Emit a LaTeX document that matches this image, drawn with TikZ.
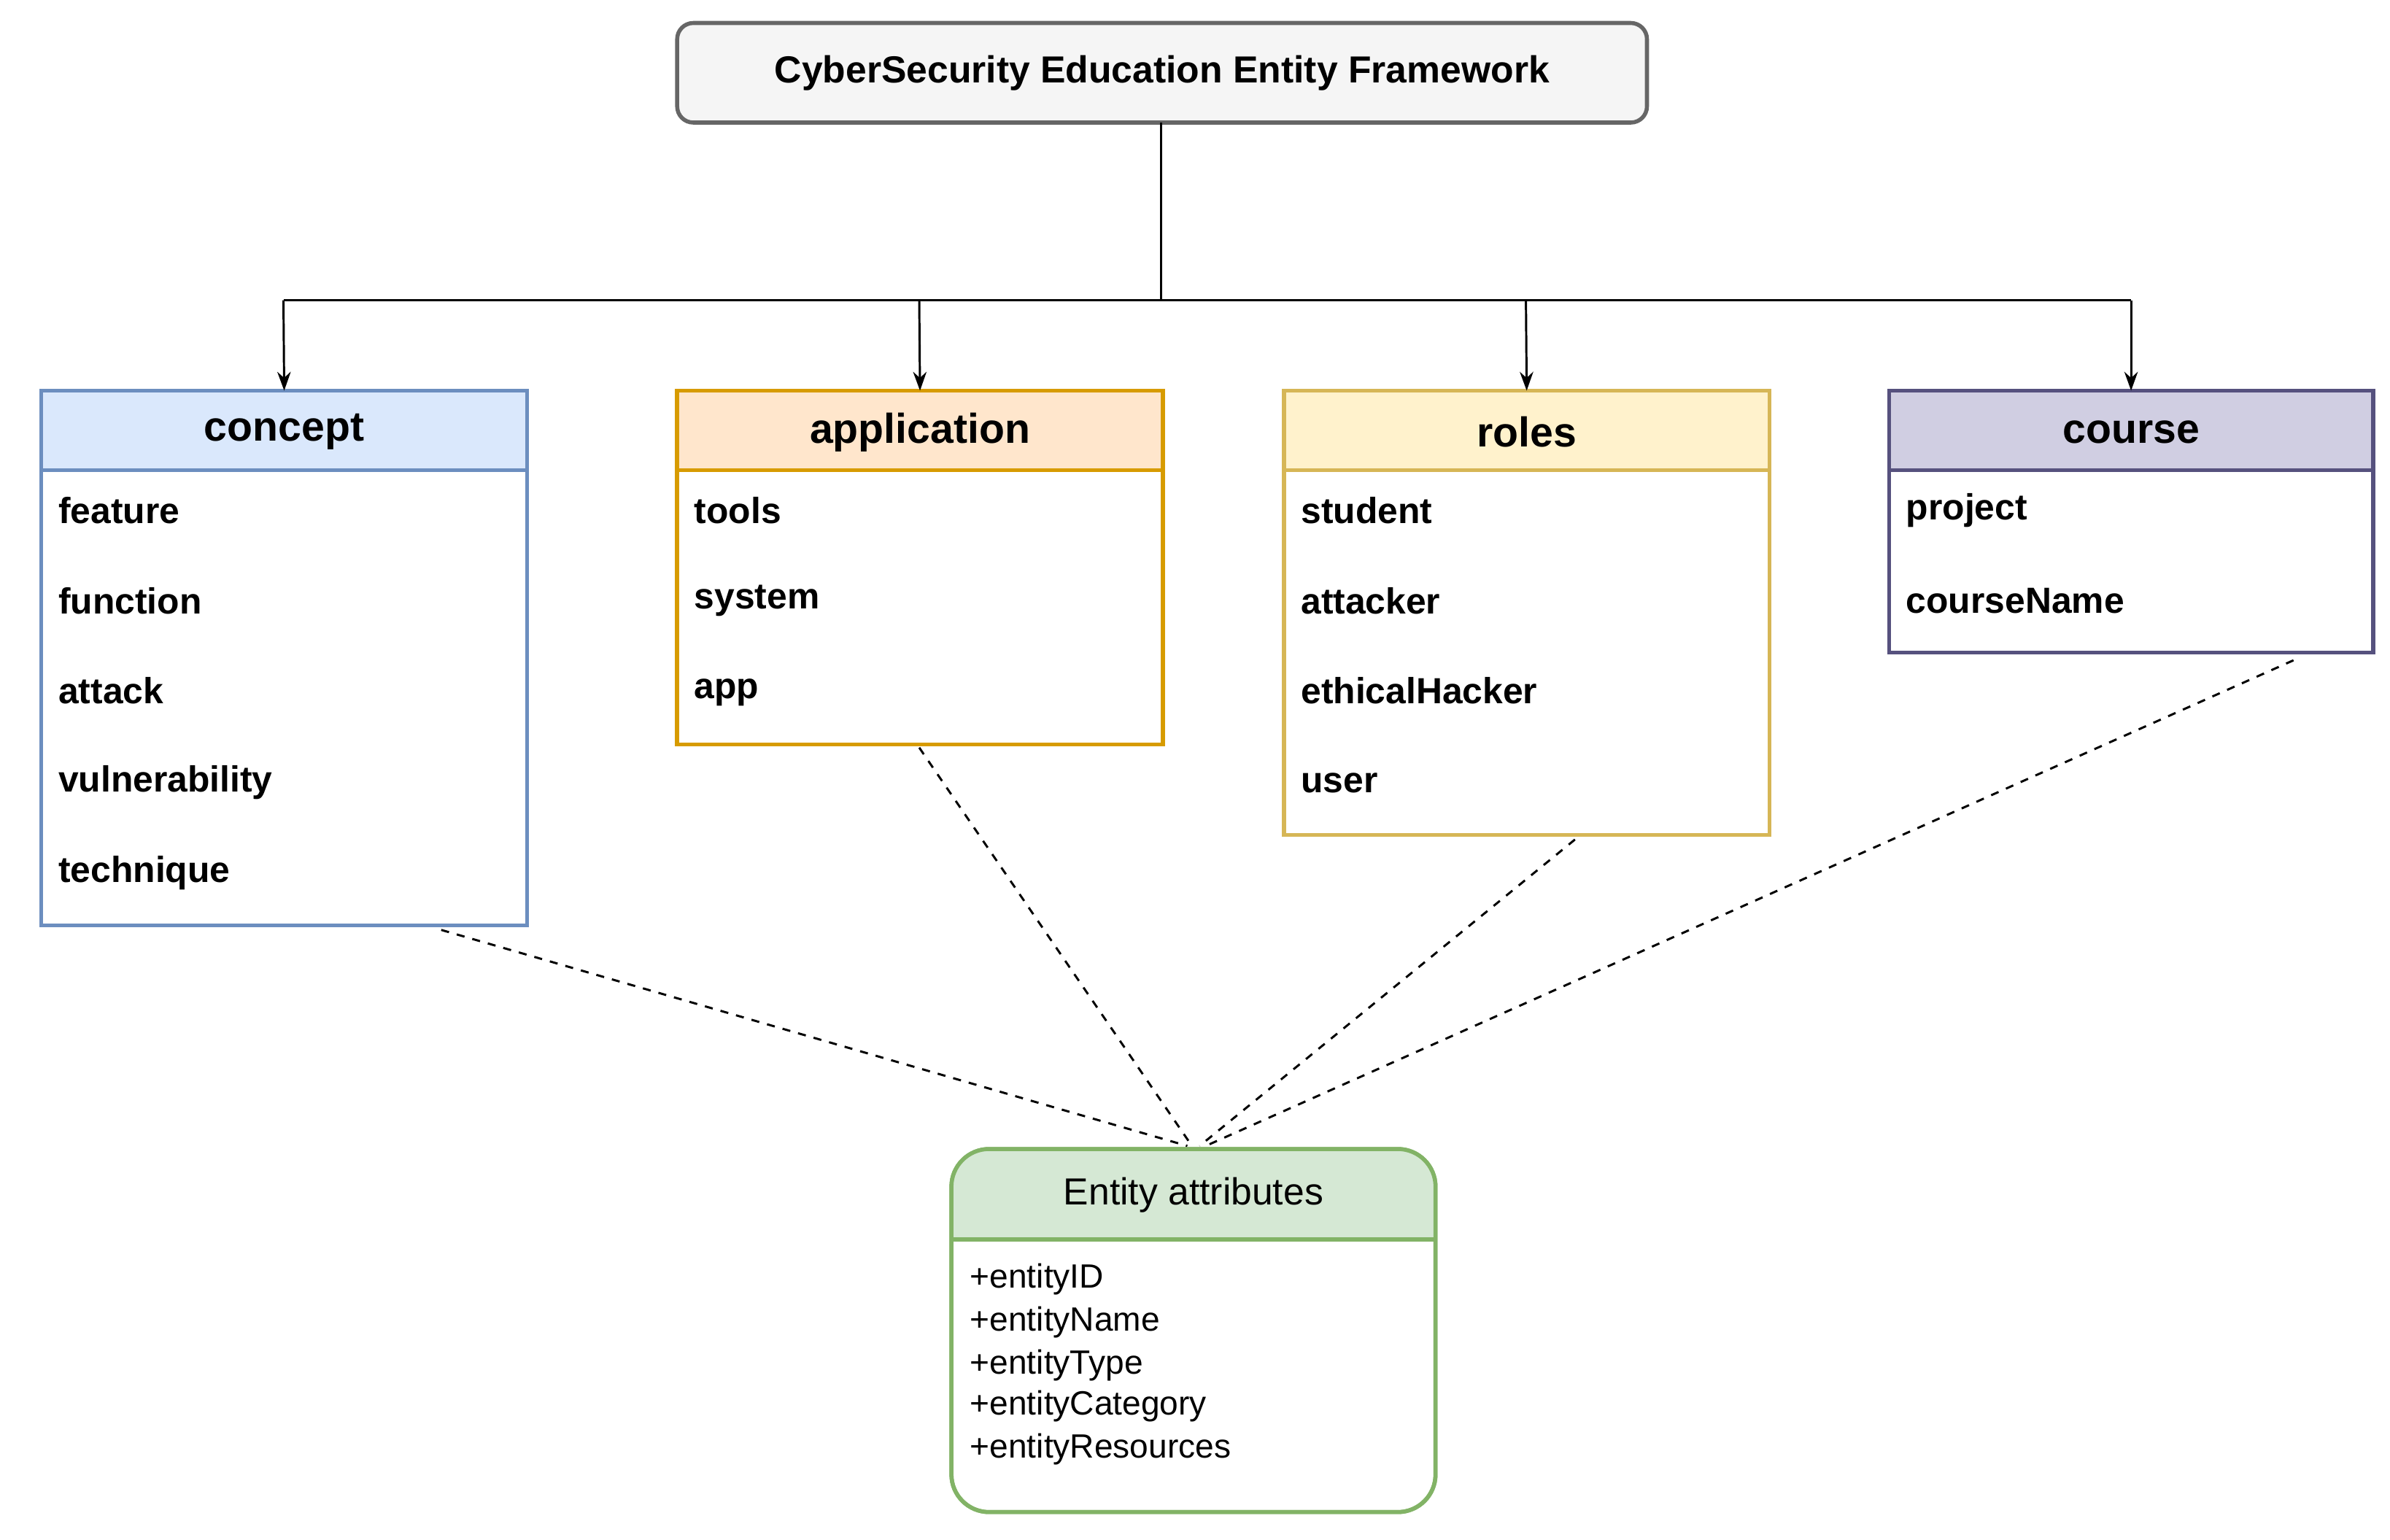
\documentclass[tikz,border=0pt]{standalone}
\usepackage{fontspec}
\setmainfont{Liberation Sans}
\usetikzlibrary{arrows.meta}
\definecolor{cfill}{HTML}{DAE8FC}\definecolor{cdraw}{HTML}{6C8EBF}
\definecolor{afill}{HTML}{FFE6CC}\definecolor{adraw}{HTML}{D79B00}
\definecolor{rfill}{HTML}{FFF2CC}\definecolor{rdraw}{HTML}{D6B656}
\definecolor{kfill}{HTML}{D0CEE2}\definecolor{kdraw}{HTML}{56517E}
\definecolor{efill}{HTML}{D5E8D4}\definecolor{edraw}{HTML}{82B366}
\definecolor{tfill}{HTML}{F5F5F5}\definecolor{tdraw}{HTML}{666666}
\begin{document}
\begin{tikzpicture}[x=0.02cm,y=-0.02cm,
  hdr/.style={font=\fontsize{15.5}{18}\selectfont\bfseries},
  itm/.style={anchor=west,font=\fontsize{13.5}{16}\selectfont\bfseries},
  eitm/.style={anchor=west,font=\fontsize{12.5}{15}\selectfont},
  arr/.style={-{Stealth[length=7pt,width=5pt]},line width=0.8pt},
  dsh/.style={dashed,line width=0.8pt}]
\useasboundingbox (0,0) rectangle (1560,1005);
% title
\draw[rounded corners=6pt,fill=tfill,draw=tdraw,line width=1.5pt] (442,15) rectangle (1075,80);
\node[font=\fontsize{14}{17}\selectfont\bfseries] (title) at (758.5,47.5) {CyberSecurity Education Entity Framework};
\coordinate (t0) at (758,80);
\coordinate (j) at (758,196);
% classes
\newcommand{\clsbox}[6]{% x1,x2,bottom,fill,draw,name
  \draw[fill=white,draw=#5,line width=1.5pt] (#1,255) rectangle (#2,#3);
  \draw[fill=#4,draw=#5,line width=1.5pt] (#1,255) rectangle (#2,307);
  \coordinate (#6top) at ({(#1+#2)/2},255);
  \coordinate (#6bot) at ({(#1+#2)/2},#3);
}
\clsbox{27}{344}{604}{cfill}{cdraw}{c}
\clsbox{442}{759}{486}{afill}{adraw}{a}
\clsbox{838}{1155}{545}{rfill}{rdraw}{r}
\clsbox{1233}{1549}{426}{kfill}{kdraw}{k}
\node[hdr] (ch) at (185.5,282) {concept};
\node[hdr] (ah) at (600.5,282) {application};
\node[hdr] (rh) at (996.5,282) {roles};
\node[hdr] (kh) at (1391,282) {course};
\node[itm] (c1) at (32,333) {feature};
\node[itm] (c2) at (32,392) {function};
\node[itm] (c3) at (32,451) {attack};
\node[itm] (c4) at (32,511) {vulnerability};
\node[itm] (c5) at (32,570) {technique};
\node[itm] (a1) at (447,333) {tools};
\node[itm] (a2) at (447,392) {system};
\node[itm] (a3) at (447,452) {app};
\node[itm] (r1) at (843,333) {student};
\node[itm] (r2) at (843,392) {attacker};
\node[itm] (r3) at (843,451) {ethicalHacker};
\node[itm] (r4) at (843,511) {user};
\node[itm] (k1) at (1238,333) {project};
\node[itm] (k2) at (1238,392) {courseName};
% tree
\draw[line width=0.8pt] (t0) -- (j);
\draw[line width=0.8pt] (185,196) -- (1391,196);
\draw[arr] (185,196) -- (ctop);
\draw[arr] (600,196) -- (atop);
\draw[arr] (996,196) -- (rtop);
\draw[arr] (1391,196) -- (ktop);
% entity
\draw[rounded corners=14pt,fill=white,draw=edraw,line width=1.5pt] (621,750) rectangle (937,987);
\begin{scope}
\clip[rounded corners=14pt] (621,750) rectangle (937,987);
\fill[efill] (621,750) rectangle (937,809);
\end{scope}
\draw[rounded corners=14pt,draw=edraw,line width=1.5pt] (621,750) rectangle (937,987);
\draw[draw=edraw,line width=1.5pt] (621,809) -- (937,809);
\node[font=\fontsize{14}{17}\selectfont] (eh) at (779,780) {Entity attributes};
\node[eitm] (e1) at (627,835) {+entityID};
\node[eitm] (e2) at (627,863) {+entityName};
\node[eitm] (e3) at (627,891) {+entityType};
\node[eitm] (e4) at (627,918) {+entityCategory};
\node[eitm] (e5) at (627,946) {+entityResources};
% dashed
\coordinate (d1) at (288,607); \coordinate (d2) at (600,488);
\coordinate (d3) at (1028,548); \coordinate (d4) at (1497,431);
\draw[dsh] (d1) -- (775,748);
\draw[dsh] (d2) -- (778,748);
\draw[dsh] (d3) -- (783,748);
\draw[dsh] (d4) -- (787,748);
\end{tikzpicture}
\end{document}
